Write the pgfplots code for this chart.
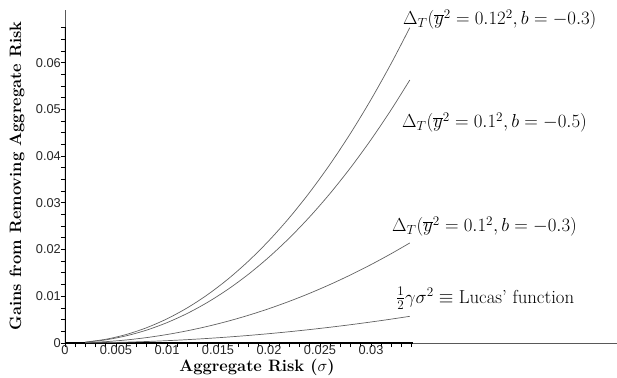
\RequirePackage{fix-cm}
\documentclass[border=0pt]{standalone}
\usepackage{fontspec}
\usepackage{pgfplots}
\pgfplotsset{compat=1.18}
\newfontfamily\tickfont{Liberation Sans}
\definecolor{curve}{gray}{0.38}
\begin{document}
\begin{tikzpicture}[x=1pt,y=1pt]
\begin{axis}[
  at={(0,0)}, anchor=south west, scale only axis,
  width=552pt, height=333pt,
  xmin=0, xmax=0.05412, ymin=0, ymax=0.0713,
  scaled x ticks=false, scaled y ticks=false,
  axis x line=bottom, axis y line=left,
  axis line style={-, draw=black!65, line width=0.9pt},
  every outer x axis line/.append style={-},
  every outer y axis line/.append style={-},
  tick align=outside,
  xtick={0,0.005,0.01,0.015,0.02,0.025,0.03},
  xticklabels={0,0.005,0.01,0.015,0.02,0.025,0.03},
  minor xtick={0.001,0.002,0.003,0.004,0.006,0.007,0.008,0.009,0.011,0.012,0.013,0.014,0.016,0.017,0.018,0.019,0.021,0.022,0.023,0.024,0.026,0.027,0.028,0.029,0.031,0.032,0.033,0.034},
  ytick={0,0.01,0.02,0.03,0.04,0.05,0.06},
  yticklabels={0,0.01,0.02,0.03,0.04,0.05,0.06},
  minor ytick={0.0025,0.005,0.0075,0.0125,0.015,0.0175,0.0225,0.025,0.0275,0.0325,0.035,0.0375,0.0425,0.045,0.0475,0.0525,0.055,0.0575,0.0625,0.065,0.0675},
  major tick length=4pt, minor tick length=4pt,
  every tick/.style={black, line width=0.9pt},
  ticklabel style={font=\tickfont\fontsize{12.8}{14}\selectfont, text=black!85},
  xticklabel style={inner sep=0pt, yshift=1.5pt},
  yticklabel style={inner sep=0pt, xshift=0pt},
  xlabel={\bfseries Aggregate Risk ($\sigma$)},
  ylabel={\bfseries Gains from Removing Aggregate Risk},
  label style={font=\fontsize{16.5}{19}\selectfont},
  xlabel style={at={(axis description cs:0.3478,-0.072)}, anchor=center},
  ylabel style={at={(axis description cs:-0.087,0.5015)}, anchor=center},
]
\draw[black, line width=2pt] (axis cs:0,0) -- (axis cs:0,0.0677);
\draw[black, line width=2pt] (axis cs:0,0) -- (axis cs:0.0341,0);
\addplot[curve, line width=0.7pt, smooth] coordinates {
(0.002,0.000197) (0.004,0.000798) (0.006,0.001818) (0.008,0.003272) (0.010,0.005175)
(0.012,0.007540) (0.014,0.010384) (0.016,0.013721) (0.018,0.017565) (0.020,0.021932)
(0.022,0.026836) (0.024,0.032293) (0.026,0.038316) (0.028,0.044921) (0.030,0.052124)
(0.032,0.059937) (0.0338,0.0675)};
\addplot[curve, line width=0.7pt, smooth] coordinates {
(0.002,0.000167) (0.004,0.000675) (0.006,0.001536) (0.008,0.002761) (0.010,0.004361)
(0.012,0.006348) (0.014,0.008734) (0.016,0.011530) (0.018,0.014747) (0.020,0.018396)
(0.022,0.022489) (0.024,0.027038) (0.026,0.032054) (0.028,0.037549) (0.030,0.043533)
(0.032,0.050019) (0.0338,0.056293)};
\addplot[curve, line width=0.7pt, smooth] coordinates {
(0.002,0.0000718) (0.004,0.000288) (0.006,0.000650) (0.008,0.001158) (0.010,0.001815)
(0.012,0.002621) (0.014,0.003577) (0.016,0.004685) (0.018,0.005945) (0.020,0.00736)
(0.022,0.00893) (0.024,0.010656) (0.026,0.012540) (0.028,0.014582) (0.030,0.016785)
(0.032,0.019149) (0.0338,0.021415)};
\addplot[curve, line width=0.7pt, smooth] coordinates {
(0.002,0.00002) (0.004,0.00008) (0.006,0.00018) (0.008,0.00032) (0.010,0.0005)
(0.012,0.00072) (0.014,0.00098) (0.016,0.00128) (0.018,0.00162) (0.020,0.002)
(0.022,0.00242) (0.024,0.00288) (0.026,0.00338) (0.028,0.00392) (0.030,0.0045)
(0.032,0.00512) (0.0338,0.005712)};
\end{axis}
\begin{scope}[every node/.style={anchor=base west, inner sep=0pt, font=\fontsize{18.8}{22}\selectfont}]
\node at (338,318) {$\Delta_T(\overline{y}^2 = 0.12^2, b = -0.3)$};
\node at (337,215) {$\Delta_T(\overline{y}^2 = 0.1^2, b = -0.5)$};
\node at (327,111) {$\Delta_T(\overline{y}^2 = 0.1^2, b = -0.3)$};
\node at (331,40) {$\frac{1}{2}\gamma\sigma^2 \equiv{}$Lucas' function};
\end{scope}
\pgfresetboundingbox
\useasboundingbox (-65,-34) rectangle (552,343);
\end{tikzpicture}
\end{document}
